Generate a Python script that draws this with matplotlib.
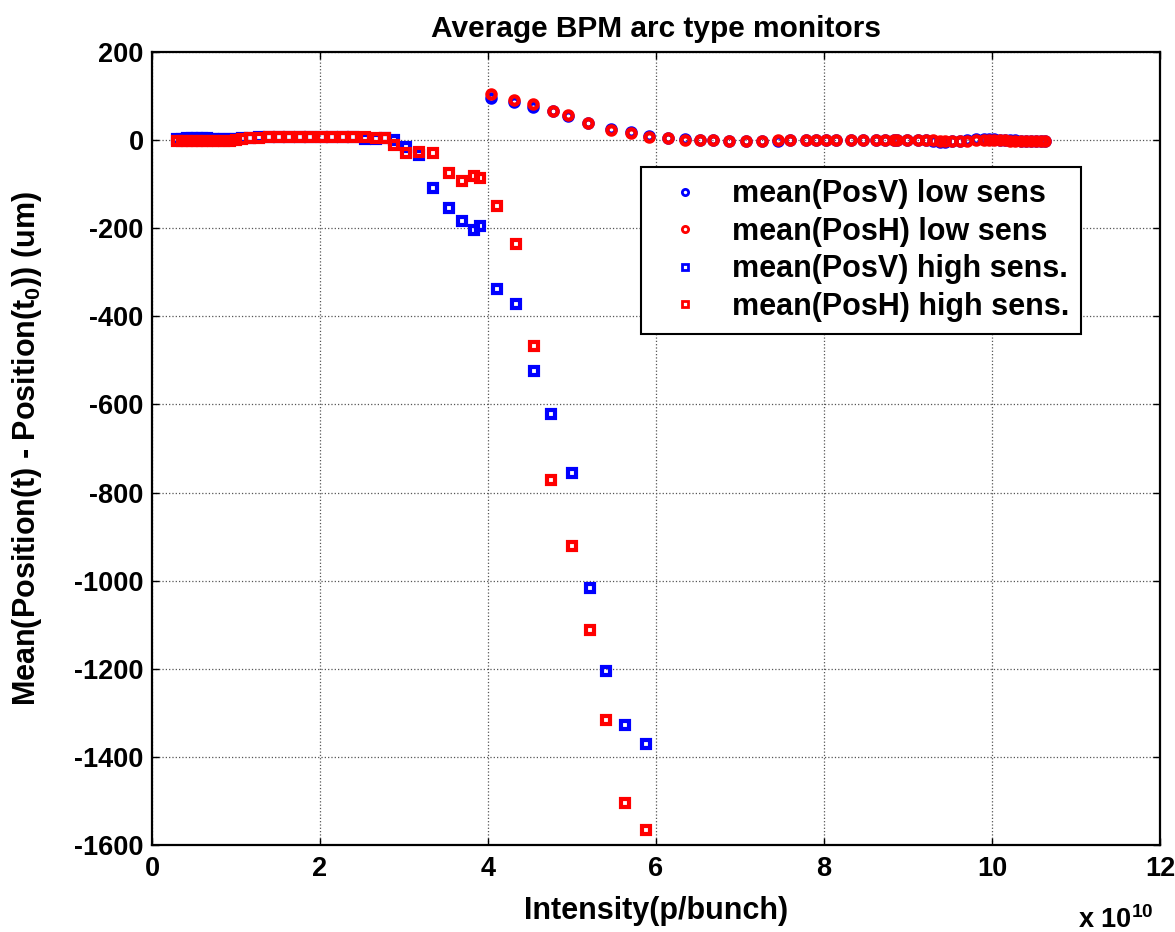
import matplotlib
matplotlib.use('Agg')
import matplotlib.pyplot as plt
import numpy as np

# intensity in units of 1e10 p/bunch
x_low = [4.04, 4.31, 4.53, 4.77, 4.95, 5.19, 5.46, 5.70, 5.92, 6.14, 6.35, 6.52, 6.68,
         6.87, 7.07, 7.26, 7.45, 7.60, 7.79, 7.90,
         8.02, 8.14, 8.32, 8.47, 8.62, 8.73, 8.83, 8.87, 8.99,
         9.12, 9.22, 9.30, 9.38, 9.44, 9.52, 9.62, 9.70, 9.81, 9.90, 9.96,
         10.02, 10.10, 10.16, 10.22, 10.28, 10.34, 10.40, 10.46, 10.52, 10.58, 10.63]
posv_low = [95, 87, 76, 65, 54, 38, 26, 18, 9, 5, 2, 1, 1,
            -1, -2, -3, -3, 0, 1, 1,
            1, 1, 1, 1, 1, 1, 1, 1, 1,
            1, 0, -2, -4, -4, -3, -2, 1, 3, 3, 2,
            2, 1, 1, 0, 0, -1, -1, -1, -2, -2, -2]
posh_low = [104, 92, 82, 65, 57, 38, 24, 17, 7, 4, 1, 0, 0,
            -2, -2, -1, 0, 1, 1, 1,
            1, 1, 1, 1, 1, 1, 1, 1, 1,
            1, 1, 0, -1, -2, -2, -2, -1, 0, 1, 1,
            1, 0, 0, -1, -1, -2, -2, -2, -3, -3, -3]

x_high = [0.30, 0.36, 0.42, 0.48, 0.54, 0.60, 0.66, 0.72, 0.79, 0.86, 0.93, 1.00,
          1.07, 1.17, 1.27, 1.39, 1.51, 1.63, 1.76, 1.88, 2.02, 2.14, 2.27, 2.39,
          2.54, 2.67, 2.77, 2.88,
          3.02, 3.18, 3.34, 3.53, 3.69, 3.83, 3.90, 4.11, 4.33, 4.55, 4.75, 5.00,
          5.21, 5.41, 5.63, 5.88]
posv_high = [3, 3, 4, 4, 4, 4, 4, 3, 3, 3, 2, 2,
             4, 5, 8, 6, 6, 6, 6, 6, 6, 6, 6, 6,
             2, 3, 4, 0,
             -15, -34, -108, -154, -184, -203, -195, -337, -371, -525, -621, -756,
             -1017, -1205, -1327, -1370]
posh_high = [-3, -3, -3, -3, -3, -3, -2, -2, -2, -2, -1, 0,
             3, 4, 5, 6, 6, 7, 7, 7, 7, 7, 7, 7,
             6, 5, 5, -11,
             -30, -27, -30, -74, -92, -81, -85, -150, -235, -468, -771, -921,
             -1113, -1316, -1504, -1566]

plt.rcParams['font.family'] = ['Liberation Sans', 'DejaVu Sans']
plt.rcParams['font.weight'] = 'bold'
plt.rcParams['mathtext.default'] = 'regular'
plt.rcParams['axes.unicode_minus'] = False
fs_tick = 19.5
fs_lab = 22

fig = plt.figure(figsize=(11.75, 9.32), dpi=100)
ax = fig.add_axes([0.1294, 0.0933, 0.8578, 0.8509])

mk = dict(linestyle='none', markersize=6, markeredgewidth=3.0, markerfacecolor='none')
ax.plot(x_low, posv_low, marker='o', color='blue', label='mean(PosV) low sens', **mk)
ax.plot(x_low, posh_low, marker='o', color='red', label='mean(PosH) low sens', **mk)
ax.plot(x_high, posv_high, marker='s', color='blue', label='mean(PosV) high sens.', **mk)
ax.plot(x_high, posh_high, marker='s', color='red', label='mean(PosH) high sens.', **mk)

ax.set_xlim(0, 12)
ax.set_ylim(-1600, 200)
ax.set_xticks(range(0, 13, 2))
ax.set_yticks(range(-1600, 201, 200))
ax.grid(True, linestyle=':', color='#555555', linewidth=0.9)
ax.tick_params(direction='in', top=True, right=True, length=5, width=1, labelsize=fs_tick)
ax.tick_params(axis='x', pad=8)
ax.tick_params(axis='y', pad=6)
for lbl in ax.get_xticklabels() + ax.get_yticklabels():
    lbl.set_fontweight('bold')
for s in ax.spines.values():
    s.set_linewidth(1.6)

ax.set_title('Average BPM arc type monitors', fontsize=21.5, fontweight='bold', pad=11)
ax.set_xlabel('Intensity(p/bunch)', fontsize=fs_lab, fontweight='bold', labelpad=10)
ax.set_ylabel('Mean(Position(t) - Position(t$_0$)) (um)', fontsize=fs_lab, fontweight='bold',
              labelpad=22)
fig.text(1116 / 1175, 4 / 932, 'x 10$^{10}$', fontsize=fs_tick, fontweight='bold',
         ha='center', va='baseline')

leg = ax.legend(loc='upper left', bbox_to_anchor=(0.485, 0.855), borderaxespad=0,
                markerscale=1.0, handlelength=2.1, handletextpad=0.47,
                borderpad=0.4, labelspacing=0.25, fancybox=False, framealpha=1,
                edgecolor='black', prop={'weight': 'bold', 'size': 22})
leg.get_frame().set_linewidth(1.5)
for h in leg.legend_handles:
    h.set_markersize(4.5)
    h.set_markeredgewidth(2.0)

plt.savefig('out.png', dpi=100)
